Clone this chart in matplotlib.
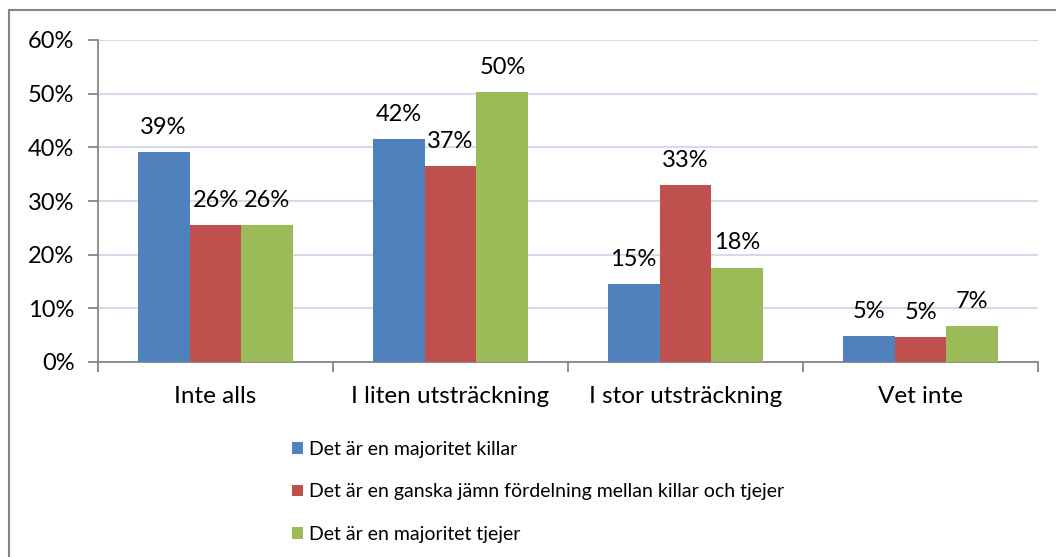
import numpy as np
import matplotlib.pyplot as plt
from matplotlib.patches import Rectangle
from matplotlib.ticker import FuncFormatter

plt.rcParams['font.family'] = ['Lato', 'DejaVu Sans']

# -------------------------------------------------
# DATA
# -------------------------------------------------

categories = ["Inte alls", "I liten utsträckning", "I stor utsträckning", "Vet inte"]

series_names = [
    "Det är en majoritet killar",
    "Det är en ganska jämn fördelning mellan killar och tjejer",
    "Det är en majoritet tjejer",
]

killar = [0.391, 0.415, 0.146, 0.049]
jamn = [0.255, 0.366, 0.330, 0.047]
tjejer = [0.255, 0.503, 0.176, 0.067]

colors = ["#4F81BD", "#C0504D", "#9BBB59"]

# -------------------------------------------------
# PLOT
# -------------------------------------------------

fig = plt.figure(figsize=(10.56, 5.57), dpi=100)
ax = fig.add_axes([98 / 1056, 1 - 362 / 557, 940 / 1056, 322 / 557])

x = np.arange(len(categories))
width = 0.221

all_series = [killar, jamn, tjejer]

for i, values in enumerate(all_series):

    bars = ax.bar(
        x + (i - 1) * width,
        values,
        width,
        color=colors[i],
        label=series_names[i],
        zorder=3
    )

    for bar, v in zip(bars, values):
        ax.annotate(
            f"{v * 100:.0f}%",
            (bar.get_x() + bar.get_width() / 2, v),
            xytext=(0, 13),
            textcoords="offset points",
            ha="center",
            va="baseline",
            fontsize=17
        )

ax.set_xlim(-0.5, len(categories) - 0.5)
ax.set_ylim(0, 0.6)
ax.set_yticks(np.arange(0, 0.61, 0.1))
ax.yaxis.set_major_formatter(FuncFormatter(lambda v, p: f"{v * 100:.0f}%"))

ax.grid(axis="y", color="#D3DCEE", linewidth=1.5, zorder=0)

for side in ["top", "right"]:
    ax.spines[side].set_visible(False)
for side in ["left", "bottom"]:
    ax.spines[side].set_color("#868686")
    ax.spines[side].set_linewidth(1.3)

# category labels in the middle, tick marks on the boundaries
ax.set_xticks(x)
ax.set_xticklabels(categories, fontsize=17.5)
ax.tick_params(axis="x", length=0, pad=17)
ax.set_xticks(np.arange(-0.5, len(categories)), minor=True)
ax.tick_params(axis="x", which="minor", length=7, color="#868686", width=1.3)

ax.tick_params(axis="y", labelsize=17, length=7, color="#868686", width=1.3, pad=10)

leg = fig.legend(
    loc="center left",
    bbox_to_anchor=(292 / 1056, 1 - 492 / 557),
    frameon=False,
    fontsize=14,
    handlelength=0.55,
    handleheight=0.55,
    handletextpad=0.3,
    labelspacing=1.3,
    borderpad=0,
    borderaxespad=0
)

# outer chart border (only left and top visible)
fig.patches.append(Rectangle(
    (9 / 1056, -0.1),
    2,
    1.1 - 10 / 557,
    transform=fig.transFigure,
    fill=False,
    edgecolor="#868686",
    linewidth=1.5
))

fig.savefig("out.png", dpi=100)
